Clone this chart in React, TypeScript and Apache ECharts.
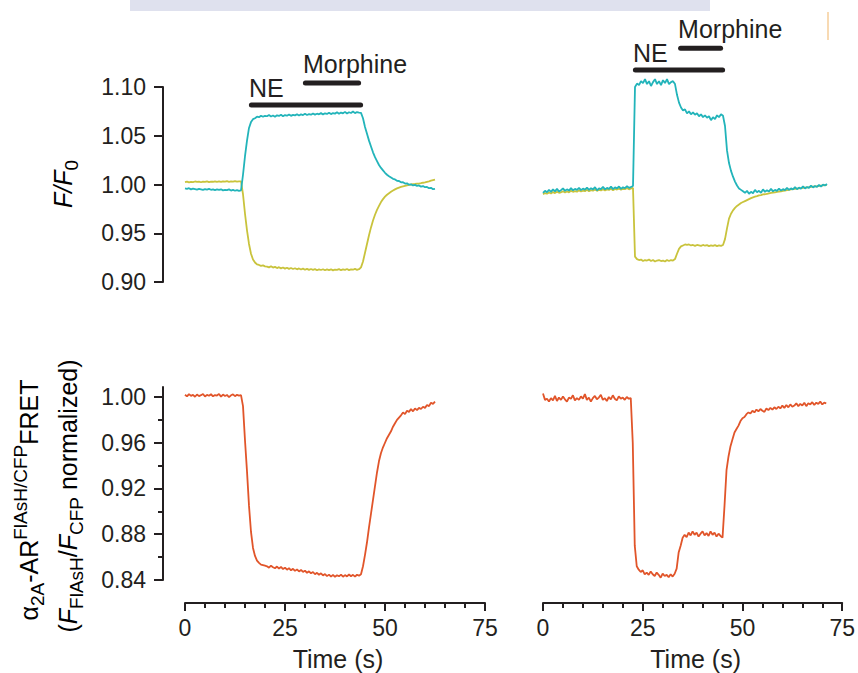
import React, { useEffect, useRef } from "react";
import * as echarts from "echarts";

// ---- sampling step (s) of all traces ----
const dt = 0.5;

// ---- left cell: F/F0 traces, t = 0 ... 62.5 s ----
const tealLeft = [
  0.9960, 0.9955, 0.9962, 0.9950, 0.9958, 0.9953, 0.9948, 0.9956, 0.9951, 0.9945,
  0.9953, 0.9948, 0.9955, 0.9946, 0.9950, 0.9942, 0.9949, 0.9944, 0.9951, 0.9940,
  0.9946, 0.9942, 0.9950, 0.9938, 0.9945, 0.9936, 0.9943, 0.9935, 0.9940,
  1.010, 1.029, 1.045, 1.058, 1.064, 1.067, 1.068, 1.0695, 1.069, 1.0705, 1.0695, 1.0705,
  1.0700, 1.0712, 1.0698, 1.0708, 1.0695, 1.0710, 1.0703, 1.0715, 1.0700, 1.0712,
  1.0706, 1.0718, 1.0704, 1.0714, 1.0709, 1.0721, 1.0708, 1.0719, 1.0712, 1.0725,
  1.0713, 1.0722, 1.0716, 1.0728, 1.0717, 1.0726, 1.0720, 1.0732, 1.0719, 1.0730,
  1.0724, 1.0736, 1.0722, 1.0733, 1.0727, 1.0740, 1.0725, 1.0738, 1.0730, 1.0745,
  1.0728, 1.0741, 1.0733, 1.0748, 1.0732, 1.0743, 1.0738,
  1.0735, 1.068, 1.059, 1.052, 1.045, 1.039, 1.033, 1.028, 1.024, 1.020,
  1.017, 1.0145, 1.012, 1.010, 1.0085, 1.0072, 1.0058, 1.0052, 1.0038, 1.0036,
  1.0022, 1.0024, 1.0010, 1.0012, 0.9998, 1.0002, 0.9990, 0.9996, 0.9986, 0.9990,
  0.9978, 0.9984, 0.9972, 0.9975, 0.9962, 0.9966, 0.9952, 0.9956,
];

const yellowLeft = [
  1.0025, 1.0030, 1.0022, 1.0028, 1.0024, 1.0031, 1.0026, 1.0029, 1.0023, 1.0030,
  1.0027, 1.0032, 1.0025, 1.0030, 1.0028, 1.0033, 1.0027, 1.0031, 1.0026, 1.0033,
  1.0029, 1.0034, 1.0028, 1.0032, 1.0030, 1.0035, 1.0029, 1.0033, 1.0031,
  0.990, 0.970, 0.953, 0.939, 0.929, 0.923, 0.920, 0.918, 0.9175, 0.9165, 0.917, 0.916,
  0.9158, 0.9150, 0.9162, 0.9148, 0.9155, 0.9143, 0.9152, 0.9140, 0.9149, 0.9137,
  0.9146, 0.9135, 0.9144, 0.9133, 0.9141, 0.9130, 0.9139, 0.9128, 0.9137, 0.9126,
  0.9135, 0.9124, 0.9133, 0.9125, 0.9132, 0.9121, 0.9130, 0.9123, 0.9131, 0.9120,
  0.9129, 0.9122, 0.9130, 0.9119, 0.9128, 0.9124, 0.9132, 0.9121, 0.9129, 0.9125,
  0.9133, 0.9122, 0.9130, 0.9126, 0.9134, 0.9125, 0.9131,
  0.915, 0.921, 0.930, 0.939, 0.948, 0.956, 0.963, 0.969, 0.974, 0.978,
  0.982, 0.985, 0.9875, 0.9895, 0.991, 0.9925, 0.9938, 0.995, 0.996, 0.9968,
  0.9975, 0.998, 0.9985, 0.999, 0.9995, 1.0, 1.0003, 1.0005, 1.0008, 1.001,
  1.0013, 1.0018, 1.0022, 1.0028, 1.0033, 1.004, 1.0045, 1.005,
];

// ---- left cell: FRET trace ----
const orangeLeft = [
  1.0020, 1.0005, 1.0025, 1.0010, 1.0018, 1.0002, 1.0022, 1.0008, 1.0016, 1.0026,
  1.0004, 1.0019, 1.0011, 1.0024, 1.0006, 1.0017, 1.0013, 1.0027, 1.0003, 1.0021,
  1.0009, 1.0018, 0.9998, 1.0015, 1.0023, 1.0007, 1.0019, 1.0012, 1.0016,
  0.992, 0.962, 0.935, 0.905, 0.882, 0.868, 0.861, 0.857, 0.855, 0.8535, 0.853, 0.8525,
  0.8520, 0.8508, 0.8525, 0.8512, 0.8503, 0.8518, 0.8500, 0.8514, 0.8496, 0.8508,
  0.8490, 0.8504, 0.8485, 0.8498, 0.8480, 0.8493, 0.8475, 0.8488, 0.8470, 0.8482,
  0.8462, 0.8476, 0.8458, 0.8470, 0.8450, 0.8463, 0.8446, 0.8458, 0.8440, 0.8452,
  0.8434, 0.8447, 0.8430, 0.8445, 0.8428, 0.8442, 0.8432, 0.8447, 0.8429, 0.8443,
  0.8431, 0.8448, 0.8433, 0.8445, 0.8430, 0.8446, 0.8438,
  0.845, 0.852, 0.862, 0.873, 0.886, 0.898, 0.910, 0.922, 0.934, 0.944,
  0.951, 0.956, 0.960, 0.964, 0.967, 0.970, 0.974, 0.977, 0.980, 0.982,
  0.984, 0.9865, 0.9850, 0.9880, 0.9870, 0.9895, 0.9875, 0.9900, 0.9885, 0.9905,
  0.9895, 0.9915, 0.9905, 0.9930, 0.9920, 0.9950, 0.9940, 0.9960,
];

// ---- right cell: F/F0 traces, t = 0 ... 71 s ----
const tealRight = [
  0.9915, 0.9935, 0.9920, 0.9945, 0.9925, 0.9950, 0.9930, 0.9955, 0.9928, 0.9942,
  0.9960, 0.9935, 0.9950, 0.9938, 0.9962, 0.9940, 0.9955, 0.9945, 0.9965, 0.9942,
  0.9958, 0.9948, 0.9968, 0.9945, 0.9962, 0.9950, 0.9972, 0.9940, 0.9960, 0.9952,
  0.9975, 0.9950, 0.9965, 0.9955, 0.9978, 0.9952, 0.9970, 0.9960, 0.9980, 0.9955,
  0.9972, 0.9962, 0.9982, 0.9965, 0.9975, 0.9985,
  1.100, 1.1035, 1.102, 1.106, 1.104, 1.108, 1.103, 1.106, 1.101, 1.105,
  1.108, 1.103, 1.106, 1.102, 1.107, 1.104, 1.108, 1.103, 1.105, 1.106, 1.103,
  1.092, 1.084, 1.079, 1.076, 1.077, 1.073, 1.075, 1.072, 1.074, 1.0715,
  1.073, 1.070, 1.072, 1.069, 1.071, 1.0685, 1.070, 1.066, 1.069, 1.067,
  1.071, 1.069, 1.072, 1.0705,
  1.060, 1.035, 1.022, 1.014, 1.008, 1.003, 0.999, 0.996, 0.9945, 0.993,
  0.9915, 0.9935, 0.9905, 0.9925, 0.991, 0.9945, 0.992, 0.9935, 0.9915, 0.995,
  0.9925, 0.994, 0.9928, 0.9955, 0.993, 0.9945, 0.9935, 0.9958, 0.9938, 0.9952,
  0.9942, 0.9965, 0.9945, 0.996, 0.995, 0.9972, 0.9952, 0.9968, 0.9958, 0.998,
  0.996, 0.9975, 0.9965, 0.9988, 0.997, 0.9985, 0.9975, 0.9995, 0.998, 0.9998,
  0.999, 1.0005,
];

const yellowRight = [
  0.9900, 0.9912, 0.9905, 0.9918, 0.9908, 0.9922, 0.9912, 0.9925, 0.9915, 0.9920,
  0.9930, 0.9918, 0.9928, 0.9920, 0.9935, 0.9925, 0.9932, 0.9926, 0.9940, 0.9928,
  0.9936, 0.9932, 0.9945, 0.9930, 0.9942, 0.9936, 0.9948, 0.9935, 0.9946, 0.9940,
  0.9952, 0.9940, 0.9950, 0.9944, 0.9956, 0.9942, 0.9954, 0.9948, 0.9960, 0.9946,
  0.9956, 0.9952, 0.9964, 0.9950, 0.9960, 0.9965,
  0.926, 0.9235, 0.9225, 0.923, 0.9215, 0.9225, 0.922, 0.923, 0.9215, 0.9225,
  0.921, 0.922, 0.9225, 0.9215, 0.922, 0.921, 0.9225, 0.9215, 0.9225, 0.922, 0.9235,
  0.929, 0.934, 0.9365, 0.9375, 0.9385, 0.938, 0.9385, 0.9375, 0.938, 0.937,
  0.938, 0.9375, 0.937, 0.938, 0.9372, 0.9378, 0.9368, 0.9375, 0.937, 0.9378,
  0.9368, 0.9375, 0.937, 0.938,
  0.944, 0.955, 0.965, 0.970, 0.9735, 0.976, 0.978, 0.9795, 0.981, 0.982,
  0.983, 0.984, 0.985, 0.986, 0.9868, 0.9875, 0.988, 0.9888, 0.9892, 0.9898,
  0.990, 0.9905, 0.991, 0.9915, 0.9918, 0.992, 0.9925, 0.9928, 0.993, 0.9935,
  0.9938, 0.9942, 0.9945, 0.995, 0.9952, 0.9955, 0.9958, 0.996, 0.9962, 0.9966,
  0.9968, 0.997, 0.9972, 0.9976, 0.9978, 0.998, 0.9982, 0.9985, 0.9988, 0.999,
  0.9993, 0.9996,
];

// ---- right cell: FRET trace ----
const orangeRight = [
  1.0030, 0.9975, 0.9985, 0.9960, 0.9990, 0.9970, 1.0010, 0.9965, 0.9995, 0.9975,
  1.0005, 0.9980, 0.9960, 0.9995, 0.9985, 1.0015, 0.9970, 0.9990, 0.9975, 1.0005,
  0.9985, 1.0025, 0.9975, 0.9995, 0.9960, 0.9990, 1.0010, 0.9980, 0.9995, 1.0020,
  0.9975, 0.9990, 0.9965, 1.0000, 0.9980, 1.0015, 0.9985, 0.9970, 1.0005, 0.9985,
  0.9995, 0.9975, 1.0000, 0.9985, 0.9990,
  0.960, 0.870, 0.852, 0.849, 0.847, 0.8485, 0.845, 0.8465, 0.8445, 0.8475,
  0.845, 0.8435, 0.8465, 0.8445, 0.842, 0.8455, 0.8435, 0.8445, 0.8425, 0.845,
  0.843, 0.8455, 0.850,
  0.864, 0.870, 0.877, 0.8795, 0.8775, 0.8815, 0.879, 0.8825, 0.8795, 0.8815,
  0.878, 0.8805, 0.8825, 0.879, 0.881, 0.8785, 0.8825, 0.8795, 0.8815, 0.878,
  0.8805, 0.8785, 0.877,
  0.905, 0.936, 0.948, 0.957, 0.963, 0.969, 0.972, 0.975, 0.979, 0.9815,
  0.9825, 0.985, 0.9865, 0.9855, 0.988, 0.9865, 0.989, 0.9875, 0.9895, 0.988,
  0.987, 0.990, 0.9885, 0.9905, 0.989, 0.991, 0.9895, 0.9915, 0.990, 0.9925,
  0.9905, 0.993, 0.991, 0.9935, 0.9915, 0.9925, 0.9945, 0.992, 0.994, 0.9925,
  0.995, 0.992, 0.9945, 0.9935, 0.9955, 0.993, 0.995, 0.994, 0.996, 0.9935,
  0.995, 0.9945,
];

// ---- drug application bars: [start s, end s], drawn at an F/F0 level above the traces ----
const neLeft = [16.6, 43.9];
const morphineLeft = [30.1, 43.4];
const neRight = [23.1, 44.9];
const morphineRight = [34.4, 44.4];
const barLevelsLeft = [1.0815, 1.1041]; // NE, Morphine
const barLevelsRight = [1.1174, 1.1397];
const barNames = ["NE", "Morphine"];

// ---- axes ----
const timeTicks = [0, 25, 50, 75];
const ffTicks = [0.9, 0.95, 1.0, 1.05, 1.1];
const fretTicks = [0.84, 0.88, 0.92, 0.96, 1.0];
const fretMinorTicks = [0.86, 0.9, 0.94, 0.98];

const INK = "#231f20";
const TEAL = "#22b4ba";
const YELLOW = "#c9c33c";
const ORANGE = "#e1552a";
const FONT = "'Liberation Sans', Arial, Helvetica, sans-serif";

const toPairs = (vals: number[]) => vals.map((v, i) => [i * dt, v]);

function trace(name: string, vals: number[], color: string, xi: number, yi: number) {
  return {
    name,
    type: "line",
    xAxisIndex: xi,
    yAxisIndex: yi,
    clip: false,
    data: toPairs(vals),
    showSymbol: false,
    symbol: "none",
    lineStyle: { color, width: 1.8 },
    itemStyle: { color },
    silent: true,
  };
}

function bar(span: number[], level: number, xi: number, yi: number) {
  return {
    type: "line",
    xAxisIndex: xi,
    yAxisIndex: yi,
    clip: false,
    data: [
      [span[0], level],
      [span[1], level],
    ],
    showSymbol: false,
    symbol: "none",
    lineStyle: { color: INK, width: 5, cap: "round" },
    silent: true,
  };
}

function barLabel(text: string, span: number[], level: number, xi: number, yi: number, dy: number) {
  return {
    type: "scatter",
    xAxisIndex: xi,
    yAxisIndex: yi,
    clip: false,
    symbol: "circle",
    symbolSize: 1,
    itemStyle: { color: "rgba(255,255,255,0)", opacity: 1 },
    data: [[span[0], level]],
    silent: true,
    label: {
      show: true,
      formatter: text,
      position: "right",
      distance: 0,
      offset: [-3, dy],
      color: INK,
      opacity: 1,
      textBorderWidth: 0,
      fontFamily: FONT,
      fontSize: 25,
    },
  };
}

const bottomTimeAxis = (gridIndex: number) => ({
  type: "value",
  gridIndex,
  min: timeTicks[0],
  max: timeTicks[timeTicks.length - 1],
  interval: timeTicks[1] - timeTicks[0],
  offset: 23,
  axisLine: { show: true, onZero: false, lineStyle: { color: INK, width: 2 } },
  axisTick: { show: true, length: 8, lineStyle: { color: INK, width: 2 } },
  minorTick: { show: true, splitNumber: 5, length: 5, lineStyle: { color: INK, width: 2 } },
  axisLabel: { color: INK, fontFamily: FONT, fontSize: 23, margin: 13 },
  splitLine: { show: false },
  minorSplitLine: { show: false },
  name: "Time (s)",
  nameLocation: "middle",
  nameGap: 43,
  nameTextStyle: { color: INK, fontFamily: FONT, fontSize: 25, padding: [0, 0, 0, 6] },
});

const hiddenTimeAxis = (gridIndex: number) => ({
  type: "value",
  gridIndex,
  min: timeTicks[0],
  max: timeTicks[timeTicks.length - 1],
  show: false,
});

const FRET_TOP = 1.00874; // axis line runs a little above the 1.00 tick

const titleRich = {
  n: { fontFamily: FONT, fontSize: 25, lineHeight: 36, color: INK },
  i: { fontFamily: FONT, fontSize: 25, lineHeight: 36, fontStyle: "italic", color: INK },
  sub: { fontFamily: FONT, fontSize: 19, lineHeight: 12, verticalAlign: "bottom", color: INK },
  sup: { fontFamily: FONT, fontSize: 19, lineHeight: 16, verticalAlign: "top", color: INK },
};

export default function App() {
  const ref = useRef<HTMLDivElement>(null);

  useEffect(() => {
    if (!ref.current) return;
    const chart = echarts.init(ref.current, undefined, { renderer: "svg" });

    const option: any = {
      animation: false,
      backgroundColor: "#ffffff",
      grid: [
        { left: 185, top: 87, width: 300, height: 195 },
        { left: 543, top: 87, width: 300, height: 195 },
        { left: 185, top: 387, width: 300, height: 193 },
        { left: 543, top: 387, width: 300, height: 193 },
      ],
      xAxis: [hiddenTimeAxis(0), hiddenTimeAxis(1), bottomTimeAxis(2), bottomTimeAxis(3)],
      yAxis: [
        {
          type: "value",
          gridIndex: 0,
          position: "left",
          min: ffTicks[0],
          max: ffTicks[ffTicks.length - 1],
          interval: 0.05,
          offset: 22,
          axisLine: { show: true, onZero: false, lineStyle: { color: INK, width: 2 } },
          axisTick: { show: true, length: 9, lineStyle: { color: INK, width: 2 } },
          axisLabel: {
            color: INK,
            fontFamily: FONT,
            fontSize: 23,
            margin: 17,
            formatter: (v: number) => v.toFixed(2),
          },
          splitLine: { show: false },
        },
        { type: "value", gridIndex: 1, min: ffTicks[0], max: ffTicks[ffTicks.length - 1], show: false },
        {
          type: "value",
          gridIndex: 2,
          position: "left",
          min: fretTicks[0],
          max: FRET_TOP,
          offset: 22,
          axisLine: { show: true, onZero: false, lineStyle: { color: INK, width: 2 } },
          axisTick: { show: true, length: 9, customValues: fretTicks, lineStyle: { color: INK, width: 2 } },
          axisLabel: {
            color: INK,
            fontFamily: FONT,
            fontSize: 23,
            margin: 17,
            customValues: fretTicks,
            formatter: (v: number) => v.toFixed(2),
          },
          splitLine: { show: false },
        },
        {
          type: "value",
          gridIndex: 2,
          position: "left",
          min: fretTicks[0],
          max: FRET_TOP,
          offset: 22,
          axisLine: { show: false, onZero: false },
          axisTick: { show: true, length: 5, customValues: fretMinorTicks, lineStyle: { color: INK, width: 2 } },
          axisLabel: { show: false },
          splitLine: { show: false },
        },
        { type: "value", gridIndex: 3, min: fretTicks[0], max: FRET_TOP, show: false },
      ],
      series: [
        trace("F/F0 yellow (left)", yellowLeft, YELLOW, 0, 0),
        trace("F/F0 cyan (left)", tealLeft, TEAL, 0, 0),
        trace("F/F0 yellow (right)", yellowRight, YELLOW, 1, 1),
        trace("F/F0 cyan (right)", tealRight, TEAL, 1, 1),
        trace("FRET (left)", orangeLeft, ORANGE, 2, 2),
        trace("FRET (right)", orangeRight, ORANGE, 3, 4),
        bar(neLeft, barLevelsLeft[0], 0, 0),
        bar(morphineLeft, barLevelsLeft[1], 0, 0),
        bar(neRight, barLevelsRight[0], 1, 1),
        bar(morphineRight, barLevelsRight[1], 1, 1),
        barLabel(barNames[0], neLeft, barLevelsLeft[0], 0, 0, -17),
        barLabel(barNames[1], morphineLeft, barLevelsLeft[1], 0, 0, -19),
        barLabel(barNames[0], neRight, barLevelsRight[0], 1, 1, -17),
        barLabel(barNames[1], morphineRight, barLevelsRight[1], 1, 1, -19),
      ],
      graphic: [
        { type: "rect", left: 130, top: 0, shape: { width: 580, height: 11 }, style: { fill: "#dfe1ee" }, silent: true },
        { type: "rect", left: 827, top: 12, shape: { width: 2, height: 28 }, style: { fill: "#f8dab3" }, silent: true },
        {
          type: "text",
          x: 63,
          y: 184,
          rotation: Math.PI / 2,
          style: {
            text: "{i|F/F}{sub|0}",
            rich: titleRich,
            align: "center",
            verticalAlign: "middle",
          },
          silent: true,
        },
        {
          type: "text",
          x: 29,
          y: 500,
          rotation: Math.PI / 2,
          style: {
            text: "{n|α}{sub|2A}{n|-AR}{sup|FlAsH/CFP}{n|FRET}",
            rich: titleRich,
            align: "center",
            verticalAlign: "middle",
          },
          silent: true,
        },
        {
          type: "text",
          x: 68,
          y: 496,
          rotation: Math.PI / 2,
          style: {
            text: "{n|(}{i|F}{sub|FlAsH}{n|/}{i|F}{sub|CFP}{n| normalized)}",
            rich: titleRich,
            align: "center",
            verticalAlign: "middle",
          },
          silent: true,
        },
      ],
    };

    chart.setOption(option);
    return () => chart.dispose();
  }, []);

  return (
    <div
      ref={ref}
      style={{ position: "absolute", left: 0, top: 0, width: 858, height: 673, background: "#fff" }}
    />
  );
}
